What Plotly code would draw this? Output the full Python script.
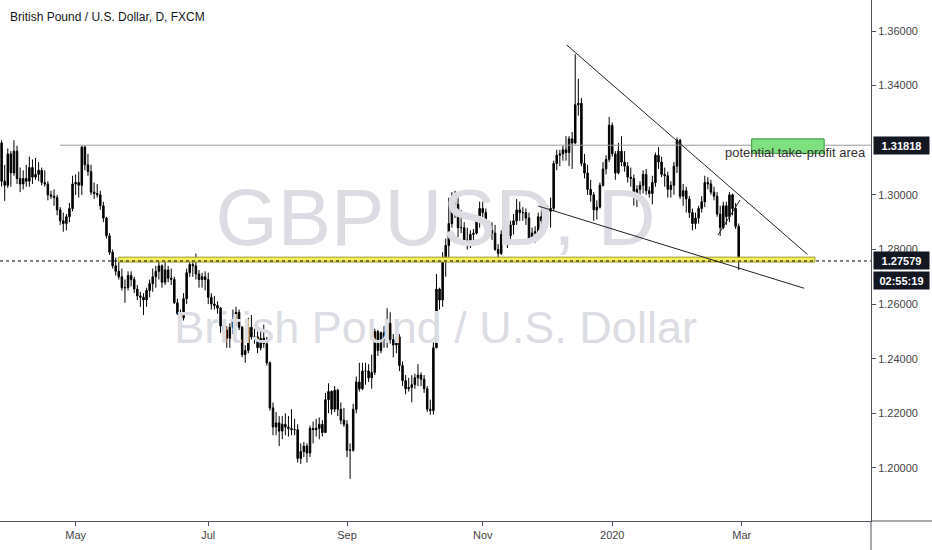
import pandas as pd
import plotly.graph_objects as go

# GBPUSD daily, FXCM (28 Mar 2019 -> 28 Feb 2020)
first_open = 1.3190

closes = [
    # Mar
    1.3050, 1.3035,
    # Apr
    1.3150, 1.3080, 1.3160, 1.3060, 1.3040, 1.3060, 1.3050, 1.3100, 1.3065, 1.3075,
    1.3090, 1.3045, 1.3040, 1.3000, 1.2995, 1.2990, 1.2945, 1.2905, 1.2895, 1.2920,
    1.2950, 1.3040,
    # May
    1.3045, 1.3035, 1.3175, 1.3110, 1.3085, 1.3010, 1.3005, 1.3000, 1.2960, 1.2915,
    1.2850, 1.2790, 1.2740, 1.2720, 1.2700, 1.2660, 1.2660, 1.2705, 1.2690, 1.2655,
    1.2630, 1.2625, 1.2615,
    # Jun
    1.2650, 1.2675, 1.2700, 1.2720, 1.2740, 1.2680, 1.2725, 1.2695, 1.2690, 1.2605,
    1.2565, 1.2550, 1.2620, 1.2715, 1.2745, 1.2740, 1.2710, 1.2690, 1.2700, 1.2690,
    # Jul
    1.2625, 1.2600, 1.2595, 1.2585, 1.2520, 1.2505, 1.2475, 1.2515, 1.2540, 1.2570,
    1.2515, 1.2415, 1.2430, 1.2515, 1.2480, 1.2480, 1.2440, 1.2475, 1.2455, 1.2385,
    1.2220, 1.2150, 1.2165,
    # Aug
    1.2135, 1.2160, 1.2150, 1.2145, 1.2140, 1.2140, 1.2035, 1.2060, 1.2080, 1.2055,
    1.2145, 1.2140, 1.2145, 1.2160, 1.2130, 1.2250, 1.2280, 1.2215, 1.2285, 1.2215,
    1.2175, 1.2160,
    # Sep
    1.2065, 1.2065, 1.2215, 1.2315, 1.2290, 1.2355, 1.2355, 1.2330, 1.2350, 1.2500,
    1.2430, 1.2495, 1.2470, 1.2530, 1.2470, 1.2450, 1.2480, 1.2375, 1.2320, 1.2290,
    1.2295,
    # Oct
    1.2305, 1.2330, 1.2340, 1.2325, 1.2290, 1.2215, 1.2210, 1.2440, 1.2655, 1.2615,
    1.2770, 1.2815, 1.2895, 1.2980, 1.2965, 1.2880, 1.2880, 1.2835, 1.2830, 1.2855,
    1.2860, 1.2915, 1.2950,
    # Nov
    1.2935, 1.2895, 1.2870, 1.2860, 1.2800, 1.2785, 1.2855, 1.2865, 1.2850, 1.2890,
    1.2905, 1.2945, 1.2935, 1.2935, 1.2915, 1.2835, 1.2860, 1.2865, 1.2920, 1.2905,
    1.2930,
    # Dec
    1.2940, 1.2950, 1.3115, 1.3145, 1.3150, 1.3165, 1.3155, 1.3205, 1.3190, 1.3330,
    1.3335, 1.3115, 1.3080, 1.3020, 1.3000, 1.2945, 1.2955, 1.3035, 1.3095, 1.3130,
    1.3255,
    # Jan
    1.3150, 1.3080, 1.3160, 1.3120, 1.3105, 1.3065, 1.3060, 1.2995, 1.3020, 1.3035,
    1.3075, 1.3015, 1.3005, 1.3045, 1.3145, 1.3120, 1.3075, 1.3070, 1.3020, 1.3035,
    1.3105, 1.3200,
    # Feb
    1.2995, 1.3015, 1.2985, 1.2935, 1.2895, 1.2915, 1.2950, 1.2975, 1.3045, 1.3040,
    1.3010, 1.2995, 1.2930, 1.2880, 1.2960, 1.2920, 1.3000, 1.2950, 1.2885, 1.2758,
]

highs = [
    1.3200, 1.3110,
    1.3170, 1.3160, 1.3200, 1.3180, 1.3100, 1.3090, 1.3110, 1.3140, 1.3130, 1.3135,
    1.3120, 1.3100, 1.3090, 1.3050, 1.3015, 1.3020, 1.3000, 1.2955, 1.2935, 1.2930,
    1.2970, 1.3070,
    1.3075, 1.3085, 1.3180, 1.3180, 1.3150, 1.3110, 1.3045, 1.3040, 1.3015, 1.2975,
    1.2920, 1.2860, 1.2800, 1.2770, 1.2760, 1.2730, 1.2690, 1.2720, 1.2720, 1.2700,
    1.2670, 1.2645, 1.2640,
    1.2660, 1.2690, 1.2730, 1.2740, 1.2765, 1.2745, 1.2760, 1.2740, 1.2730, 1.2700,
    1.2620, 1.2580, 1.2640, 1.2730, 1.2760, 1.2760, 1.2785, 1.2725, 1.2715, 1.2720,
    1.2715, 1.2640, 1.2630, 1.2610, 1.2590, 1.2545, 1.2520, 1.2530, 1.2580, 1.2590,
    1.2580, 1.2520, 1.2450, 1.2550, 1.2560, 1.2510, 1.2500, 1.2510, 1.2525, 1.2480,
    1.2390, 1.2240, 1.2205,
    1.2190, 1.2190, 1.2200, 1.2190, 1.2215, 1.2180, 1.2160, 1.2090, 1.2095, 1.2090,
    1.2155, 1.2170, 1.2180, 1.2185, 1.2175, 1.2275, 1.2310, 1.2285, 1.2300, 1.2290,
    1.2240, 1.2220,
    1.2175, 1.2090, 1.2235, 1.2335, 1.2385, 1.2385, 1.2385, 1.2380, 1.2415, 1.2510,
    1.2505, 1.2500, 1.2520, 1.2585, 1.2570, 1.2490, 1.2500, 1.2490, 1.2390, 1.2340,
    1.2330,
    1.2340, 1.2345, 1.2380, 1.2350, 1.2340, 1.2300, 1.2250, 1.2460, 1.2710, 1.2660,
    1.2790, 1.2840, 1.2990, 1.3010, 1.3015, 1.3000, 1.2945, 1.2900, 1.2880, 1.2870,
    1.2875, 1.2925, 1.2975,
    1.2975, 1.2950, 1.2905, 1.2900, 1.2890, 1.2820, 1.2870, 1.2890, 1.2895, 1.2905,
    1.2930, 1.2985, 1.2975, 1.2955, 1.2950, 1.2935, 1.2880, 1.2885, 1.2935, 1.2945,
    1.2940,
    1.2960, 1.2990, 1.3125, 1.3165, 1.3165, 1.3180, 1.3215, 1.3215, 1.3230, 1.3515,
    1.3425, 1.3355, 1.3150, 1.3110, 1.3055, 1.3010, 1.2980, 1.3045, 1.3120, 1.3145,
    1.3285,
    1.3265, 1.3160, 1.3190, 1.3215, 1.3160, 1.3120, 1.3100, 1.3075, 1.3035, 1.3050,
    1.3090, 1.3095, 1.3030, 1.3070, 1.3155, 1.3175, 1.3140, 1.3100, 1.3085, 1.3050,
    1.3120, 1.3210,
    1.3205, 1.3040, 1.3030, 1.2995, 1.2950, 1.2935, 1.2960, 1.2995, 1.3070, 1.3065,
    1.3055, 1.3030, 1.3010, 1.2960, 1.2975, 1.2975, 1.3010, 1.3005, 1.2970, 1.2895,
]

lows = [
    1.3030, 1.2978,
    1.3025, 1.3030, 1.3070, 1.3040, 1.3010, 1.3020, 1.3030, 1.3030, 1.3040, 1.3055,
    1.3050, 1.3035, 1.3030, 1.2980, 1.2985, 1.2960, 1.2925, 1.2890, 1.2865, 1.2870,
    1.2900, 1.2940,
    1.3000, 1.2990, 1.3000, 1.3090, 1.3070, 1.3000, 1.2985, 1.2990, 1.2945, 1.2900,
    1.2840, 1.2780, 1.2730, 1.2705, 1.2690, 1.2650, 1.2605, 1.2650, 1.2665, 1.2640,
    1.2615, 1.2590, 1.2560,
    1.2590, 1.2625, 1.2645, 1.2660, 1.2690, 1.2660, 1.2670, 1.2680, 1.2670, 1.2600,
    1.2560, 1.2505, 1.2540, 1.2600, 1.2700, 1.2700, 1.2690, 1.2660, 1.2660, 1.2650,
    1.2600, 1.2580, 1.2580, 1.2565, 1.2495, 1.2480, 1.2440, 1.2440, 1.2490, 1.2520,
    1.2505, 1.2405, 1.2385, 1.2420, 1.2470, 1.2455, 1.2420, 1.2430, 1.2440, 1.2375,
    1.2210, 1.2120, 1.2120,
    1.2080, 1.2105, 1.2120, 1.2115, 1.2120, 1.2120, 1.2020, 1.2015, 1.2040, 1.2020,
    1.2040, 1.2090, 1.2115, 1.2105, 1.2115, 1.2130, 1.2200, 1.2195, 1.2205, 1.2190,
    1.2160, 1.2150,
    1.2040, 1.1960, 1.2060, 1.2200, 1.2280, 1.2285, 1.2305, 1.2315, 1.2290, 1.2340,
    1.2410, 1.2420, 1.2440, 1.2440, 1.2455, 1.2405, 1.2420, 1.2355, 1.2300, 1.2270,
    1.2280,
    1.2240, 1.2290, 1.2300, 1.2300, 1.2275, 1.2205, 1.2195, 1.2195, 1.2440, 1.2580,
    1.2590, 1.2700, 1.2770, 1.2880, 1.2915, 1.2845, 1.2860, 1.2820, 1.2800, 1.2805,
    1.2815, 1.2855, 1.2880,
    1.2895, 1.2880, 1.2855, 1.2835, 1.2795, 1.2770, 1.2780, 1.2825, 1.2805, 1.2825,
    1.2855, 1.2890, 1.2905, 1.2905, 1.2890, 1.2820, 1.2830, 1.2825, 1.2850, 1.2880,
    1.2900,
    1.2900, 1.2880, 1.2940, 1.3090, 1.3105, 1.3125, 1.3125, 1.3105, 1.3095, 1.3185,
    1.3290, 1.3105, 1.3060, 1.3000, 1.2975, 1.2905, 1.2910, 1.2950, 1.3030, 1.3075,
    1.3120,
    1.3140, 1.3055, 1.3075, 1.3105, 1.3085, 1.3045, 1.3030, 1.2960, 1.2955, 1.2990,
    1.3005, 1.3000, 1.2990, 1.2965, 1.3030, 1.3095, 1.3065, 1.3030, 1.2990, 1.2990,
    1.3000, 1.3080,
    1.2985, 1.2960, 1.2935, 1.2915, 1.2870, 1.2875, 1.2895, 1.2935, 1.2955, 1.3020,
    1.3000, 1.2980, 1.2920, 1.2850, 1.2875, 1.2890, 1.2900, 1.2925, 1.2875, 1.2725,
]

# trading days, no weekends, FXCM skips Christmas and New Year
holidays = ["2019-12-25", "2020-01-01"]
days = pd.bdate_range("2019-03-28", "2020-02-28")
days = days[~days.isin(pd.to_datetime(holidays))]
assert len(days) == len(closes) == len(highs) == len(lows)
opens = [first_open] + closes[:-1]

last_price = 1.27579
resistance = 1.31818
tick_vals = ["2019-05-01", "2019-07-01", "2019-09-02", "2019-11-01", "2020-01-02", "2020-03-02"]
tick_text = ["May", "Jul", "Sep", "Nov", "2020", "Mar"]
# 1.32 sits under the 1.31818 label box, so it is not drawn
price_ticks = [1.20, 1.22, 1.24, 1.26, 1.28, 1.30, 1.34, 1.36]

x_range = ["2019-03-27 11:30", "2020-04-28 21:36"]
mid_x = "2019-10-10 17:00"
axis_col = "#50535e"
font = "Liberation Sans"

fig = go.Figure()

# --- watermark (drawn first so the candles sit on top)
fig.add_trace(go.Scatter(x=[mid_x], y=[1.2888], mode="text", text=["GBPUSD, D"],
                         textfont=dict(family=font, size=80, color="#dcdde2"),
                         hoverinfo="skip", showlegend=False))
fig.add_trace(go.Scatter(x=[mid_x], y=[1.2498], mode="text", text=["British Pound / U.S. Dollar"],
                         textfont=dict(family=font, size=45, color="#dcdde2"),
                         hoverinfo="skip", showlegend=False))

# --- candles
fig.add_trace(go.Candlestick(x=days, open=opens, high=highs, low=lows, close=closes,
                             increasing=dict(line=dict(color="black", width=1), fillcolor="black"),
                             decreasing=dict(line=dict(color="black", width=1), fillcolor="black"),
                             hoverinfo="skip", showlegend=False))

# --- drawings
fig.add_shape(type="line", x0="2019-04-23 22:00", x1=x_range[1], y0=resistance, y1=resistance,
              line=dict(color="#9a9a9a", width=1))
fig.add_shape(type="rect", x0="2019-05-20 19:00", x1="2020-04-02 17:00", y0=1.2754, y1=1.2772,
              fillcolor="#f4ef5a", line=dict(color="#9e9a2a", width=1))
fig.add_shape(type="line", xref="paper", x0=0, x1=1, y0=last_price, y1=last_price,
              line=dict(color="black", width=1, dash="dot"))
fig.add_shape(type="line", x0="2019-12-10 05:00", y0=1.3549, x1="2020-03-31 07:00", y1=1.2782,
              line=dict(color="#222", width=1))
fig.add_shape(type="line", x0="2019-11-27 00:00", y0=1.2959, x1="2020-03-30 05:00", y1=1.2658,
              line=dict(color="#222", width=1))
fig.add_shape(type="line", x0="2020-02-19 07:00", y0=1.2853, x1="2020-02-28 10:00", y1=1.2981,
              line=dict(color="#222", width=1))
fig.add_shape(type="rect", x0="2020-03-05 05:00", x1="2020-04-07 17:00", y0=1.3152, y1=1.3205,
              fillcolor="#7ee07e", line=dict(color="#3a9a3a", width=1))
fig.add_annotation(x="2020-02-20 19:00", y=1.3155, text="potential take-profit area",
                   xanchor="left", yanchor="middle", showarrow=False,
                   font=dict(family=font, size=13, color="#333"))

# axis lines running into the margins
fig.add_shape(type="line", xref="paper", yref="paper", x0=1, x1=1.08, y0=0, y1=0,
              line=dict(color=axis_col, width=1))
fig.add_shape(type="line", xref="paper", yref="paper", x0=1, x1=1, y0=0, y1=-0.06,
              line=dict(color=axis_col, width=1))

# --- price labels on the right scale
for val, txt, shift in [(resistance, "1.31818", 0), (last_price, "1.27579", 0), (last_price, "02:55:19", -20)]:
    fig.add_annotation(xref="paper", x=1, xanchor="left", xshift=2, y=val, yshift=shift,
                       text="<b>%s</b>" % txt, showarrow=False, bgcolor="#131722",
                       width=53, height=15, borderpad=1,
                       font=dict(family=font, size=11, color="white"))

# --- title
fig.add_annotation(xref="paper", yref="paper", x=8 / 871, y=1 - 17 / 521, xanchor="left", yanchor="middle",
                   text="British Pound / U.S. Dollar, D, FXCM", showarrow=False,
                   font=dict(family=font, size=12, color="#131722"))

fig.update_layout(
    width=932, height=550,
    margin=dict(l=0, r=61, t=0, b=29),
    paper_bgcolor="white", plot_bgcolor="white",
    showlegend=False,
    xaxis=dict(type="date", range=x_range,
               rangebreaks=[dict(bounds=["sat", "mon"]), dict(values=holidays)],
               rangeslider=dict(visible=False),
               showgrid=False, zeroline=False, showline=True, linecolor=axis_col, linewidth=1,
               ticks="outside", ticklen=4, tickcolor=axis_col,
               tickvals=tick_vals, ticktext=tick_text,
               tickfont=dict(family=font, size=11, color="#444")),
    yaxis=dict(side="right", range=[1.18058, 1.37135], tickvals=price_ticks, tickformat=".5f",
               showgrid=False, zeroline=False, showline=True, linecolor=axis_col, linewidth=1,
               ticks="outside", ticklen=4, tickcolor=axis_col,
               tickfont=dict(family=font, size=11, color="#444")),
)

# drop the browser's default page margin so the figure sits at the window corner
fig.write_html("out.html", config={"displayModeBar": False},
               post_script="document.body.style.margin='0px';")
